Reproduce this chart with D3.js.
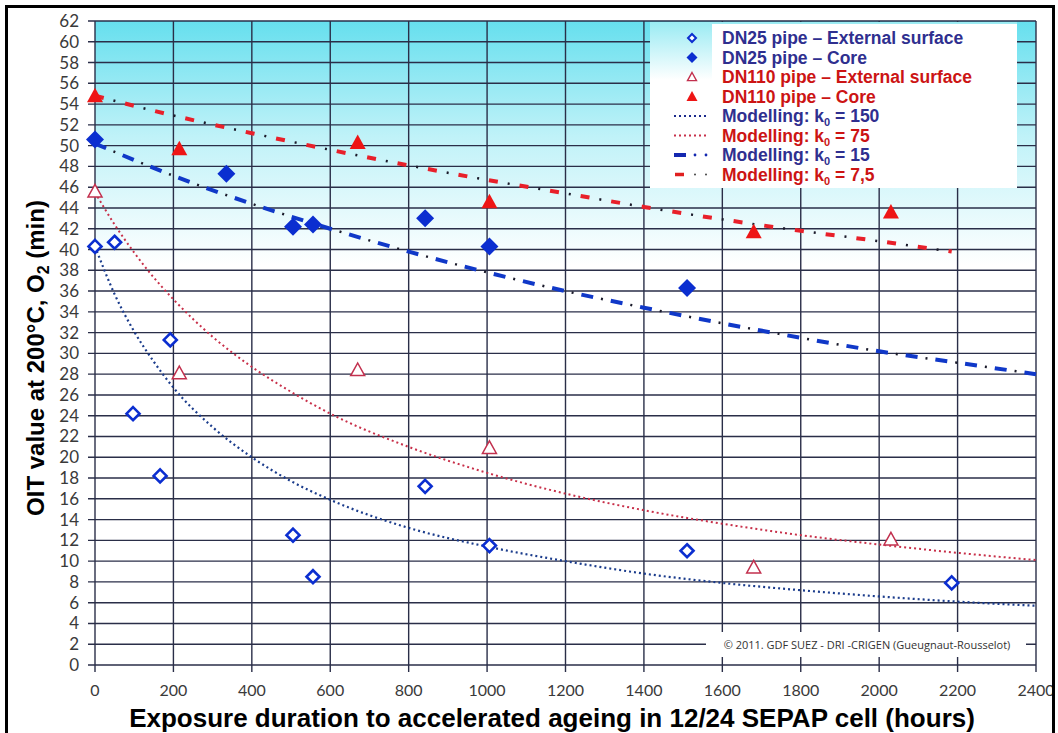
<!DOCTYPE html>
<html>
<head>
<meta charset="utf-8">
<script src="https://cdn.jsdelivr.net/npm/d3@7"></script>
<style>
  body { margin: 0; background: #fff; }
  svg { display: block; }
</style>
</head>
<body>
<div id="chart"></div>
<script>
// measured points (hours, OIT min)
const dn25ExtX = [0, 50, 97, 166, 192, 505, 556, 842, 1006, 1510, 2185];
const dn25ExtY = [40.3, 40.7, 24.2, 18.2, 31.3, 12.5, 8.5, 17.2, 11.5, 11.0, 7.9];
const dn25CoreX = [0, 335, 505, 556, 842, 1006, 1510];
const dn25CoreY = [50.6, 47.3, 42.2, 42.4, 43.0, 40.3, 36.3];
const dn110ExtX = [0, 215, 670, 1006, 1680, 2030];
const dn110ExtY = [45.6, 28.1, 28.4, 20.9, 9.4, 12.1];
const dn110CoreX = [0, 215, 670, 1006, 1680, 2030];
const dn110CoreY = [54.8, 49.7, 50.3, 44.6, 41.7, 43.6];

// model curves
const modelX = [0, 50, 100, 150, 200, 300, 400, 500, 600, 800, 1000, 1200, 1400, 1600, 1800, 2000, 2200, 2400];
const k150Y = [40.3, 35.7, 32.1, 29.2, 26.7, 22.9, 20.0, 17.7, 15.9, 13.2, 11.4, 10.0, 8.8, 7.9, 7.2, 6.6, 6.1, 5.7];
const k75Y = [45.5, 42.4, 39.7, 37.3, 35.2, 31.6, 28.7, 26.3, 24.2, 21.0, 18.5, 16.5, 14.9, 13.6, 12.5, 11.6, 10.8, 10.1];
const k15X = [0, 200, 400, 600, 800, 1000, 1200, 1400, 1600, 1800, 2000, 2200, 2400];
const k15Y = [50.2, 47.1, 44.4, 42.0, 39.8, 37.8, 36.0, 34.4, 32.9, 31.5, 30.2, 29.1, 28.0];
const k7X = [0, 200, 400, 600, 800, 1000, 1200, 1400, 1600, 1800, 2000, 2185];
const k7Y = [54.8, 52.9, 51.2, 49.6, 48.1, 46.7, 45.4, 44.1, 42.9, 41.8, 40.8, 39.8];

const xTicks = d3.range(0, 2401, 200);
const yTicks = d3.range(0, 63, 2);

const W = 1058, H = 733;
const blue = "#0b2ed0", red = "#ee1515", pink = "#c2304e";
const legBlue = "#2f2f8f", legRed = "#cc1414";

const svg = d3.select("#chart").append("svg").attr("width", W).attr("height", H);

const x = d3.scaleLinear().domain([0, 2400]).range([95, 1036]);
const y = d3.scaleLinear().domain([0, 62]).range([665, 21]);

// background gradient
const defs = svg.append("defs");
const grad = defs.append("linearGradient").attr("id", "bg").attr("x1", 0).attr("y1", 0).attr("x2", 0).attr("y2", 1);
grad.append("stop").attr("offset", "0%").attr("stop-color", "#66dfee");
grad.append("stop").attr("offset", "18%").attr("stop-color", "#c0f2f8");
grad.append("stop").attr("offset", "38%").attr("stop-color", "#ffffff");
grad.append("stop").attr("offset", "100%").attr("stop-color", "#ffffff");

svg.append("rect").attr("x", x(0)).attr("y", y(62)).attr("width", x(2400) - x(0)).attr("height", y(0) - y(62))
  .attr("fill", "url(#bg)");

// grid
svg.append("g").selectAll("line").data(yTicks).enter().append("line")
  .attr("x1", x(0) - 7).attr("x2", x(2400))
  .attr("y1", d => y(d)).attr("y2", d => y(d))
  .attr("stroke", "#2a2e48").attr("stroke-width", 1.4);
svg.append("g").selectAll("line").data(xTicks).enter().append("line")
  .attr("x1", d => x(d)).attr("x2", d => x(d))
  .attr("y1", y(62)).attr("y2", y(0) + 7)
  .attr("stroke", "#2a2e48").attr("stroke-width", 1.4);

// tick labels
svg.append("g").selectAll("text").data(yTicks).enter().append("text")
  .attr("x", 79).attr("y", d => y(d) + 6)
  .attr("text-anchor", "end")
  .style("font-family", "Lato, sans-serif").style("font-size", "17px").attr("fill", "#3a3a3a")
  .text(d => d);
svg.append("g").selectAll("text").data(xTicks).enter().append("text")
  .attr("x", d => x(d)).attr("y", 696)
  .attr("text-anchor", "middle")
  .style("font-family", "Lato, sans-serif").style("font-size", "16px").attr("fill", "#3a3a3a")
  .text(d => d);

// copyright box
svg.append("rect").attr("x", 706).attr("y", 632).attr("width", 320).attr("height", 25).attr("fill", "#fff");
svg.append("text").attr("x", 867).attr("y", 649).attr("text-anchor", "middle")
  .style("font-family", "Open Sans, sans-serif").style("font-size", "11px").attr("fill", "#333")
  .text("\u00a9 2011. GDF SUEZ  -  DRI  -CRIGEN  (Gueugnaut-Rousselot)");

// model curves
const line = d3.line().x(d => x(d[0])).y(d => y(d[1])).curve(d3.curveMonotoneX);
const pts = (xs, ys) => xs.map((v, i) => [v, ys[i]]);

svg.append("path").attr("d", line(pts(modelX, k75Y))).attr("fill", "none")
  .attr("stroke", "#c8304a").attr("stroke-width", 2).attr("stroke-dasharray", "2,3");
svg.append("path").attr("d", line(pts(modelX, k150Y))).attr("fill", "none")
  .attr("stroke", "#1b3c8c").attr("stroke-width", 2.2).attr("stroke-dasharray", "2,3");

function dashDot(d, col, dash, period, w) {
  svg.append("path").attr("d", d).attr("fill", "none")
    .attr("stroke", col).attr("stroke-width", w)
    .attr("stroke-dasharray", dash + "," + (period - dash));
  svg.append("path").attr("d", d).attr("fill", "none")
    .attr("stroke", "#1a1a2a").attr("stroke-width", 2.5)
    .attr("stroke-dasharray", "2," + (period - 2))
    .attr("stroke-dashoffset", -(dash + (period - dash) / 2 - 1));
}
dashDot(line(pts(k15X, k15Y)), "#1038c8", 12, 30, 4);
dashDot(line(pts(k7X, k7Y)), "#e8202a", 9, 31, 4);

// markers
const diamond = (s) => `M0,${-s}L${s},0L0,${s}L${-s},0Z`;
const tri = (s) => `M0,${-s}L${s},${s * 0.8}L${-s},${s * 0.8}Z`;

svg.append("g").selectAll("path").data(pts(dn110ExtX, dn110ExtY)).enter().append("path")
  .attr("transform", d => `translate(${x(d[0])},${y(d[1])})`)
  .attr("d", tri(7)).attr("fill", "#fff").attr("stroke", pink).attr("stroke-width", 1.5);
svg.append("g").selectAll("path").data(pts(dn110CoreX, dn110CoreY)).enter().append("path")
  .attr("transform", d => `translate(${x(d[0])},${y(d[1])})`)
  .attr("d", tri(8)).attr("fill", red);
svg.append("g").selectAll("path").data(pts(dn25CoreX, dn25CoreY)).enter().append("path")
  .attr("transform", d => `translate(${x(d[0])},${y(d[1])})`)
  .attr("d", diamond(9)).attr("fill", blue);
svg.append("g").selectAll("path").data(pts(dn25ExtX, dn25ExtY)).enter().append("path")
  .attr("transform", d => `translate(${x(d[0])},${y(d[1])})`)
  .attr("d", diamond(6.5)).attr("fill", "#fff").attr("stroke", blue).attr("stroke-width", 2.6);

// legend
const lg = svg.append("g");
const lgGrad = defs.append("linearGradient").attr("id", "lgbg").attr("x1", 0).attr("y1", 0).attr("x2", 0).attr("y2", 1);
lgGrad.append("stop").attr("offset", "0%").attr("stop-color", "#9aebf3");
lgGrad.append("stop").attr("offset", "35%").attr("stop-color", "#ffffff");
lg.append("rect").attr("x", 650).attr("y", 22).attr("width", 367).attr("height", 166).attr("fill", "url(#lgbg)");
lg.append("rect").attr("x", 712).attr("y", 24).attr("width", 305).attr("height", 163).attr("fill", "#fff");

const legRows = [
  {label: "DN25 pipe \u2013 External surface", col: legBlue, kind: "openDiamond"},
  {label: "DN25 pipe \u2013 Core", col: legBlue, kind: "diamond"},
  {label: "DN110 pipe \u2013 External surface", col: legRed, kind: "openTri"},
  {label: "DN110 pipe \u2013 Core", col: legRed, kind: "tri"},
  {label: "Modelling: k", sub: "0", rest: " = 150", col: legBlue, kind: "dotBlue"},
  {label: "Modelling: k", sub: "0", rest: " = 75", col: legRed, kind: "dotRed"},
  {label: "Modelling: k", sub: "0", rest: " = 15", col: legBlue, kind: "ddBlue"},
  {label: "Modelling: k", sub: "0", rest: " = 7,5", col: legRed, kind: "ddRed"}
];
const rowY = i => 38 + i * 19.5;
legRows.forEach((r, i) => {
  const cy = rowY(i);
  const sx = 692;
  if (r.kind === "openDiamond")
    lg.append("path").attr("transform", `translate(${sx},${cy})`).attr("d", diamond(4)).attr("fill", "#fff").attr("stroke", blue).attr("stroke-width", 2);
  if (r.kind === "diamond")
    lg.append("path").attr("transform", `translate(${sx},${cy})`).attr("d", diamond(5.5)).attr("fill", blue);
  if (r.kind === "openTri")
    lg.append("path").attr("transform", `translate(${sx},${cy})`).attr("d", tri(4.5)).attr("fill", "#fff").attr("stroke", pink).attr("stroke-width", 1.4);
  if (r.kind === "tri")
    lg.append("path").attr("transform", `translate(${sx},${cy})`).attr("d", tri(5.5)).attr("fill", red);
  if (r.kind === "dotBlue" || r.kind === "dotRed")
    lg.append("line").attr("x1", 674).attr("x2", 708).attr("y1", cy).attr("y2", cy)
      .attr("stroke", r.kind === "dotBlue" ? "#1b2a8c" : "#c8304a").attr("stroke-width", 2.2).attr("stroke-dasharray", "2,3");
  if (r.kind === "ddBlue") {
    lg.append("line").attr("x1", 674).attr("x2", 686).attr("y1", cy).attr("y2", cy).attr("stroke", "#1428b0").attr("stroke-width", 4);
    lg.append("circle").attr("cx", 695).attr("cy", cy).attr("r", 1.4).attr("fill", "#1428b0");
    lg.append("circle").attr("cx", 706).attr("cy", cy).attr("r", 1.4).attr("fill", "#1428b0");
  }
  if (r.kind === "ddRed") {
    lg.append("line").attr("x1", 675).attr("x2", 684).attr("y1", cy).attr("y2", cy).attr("stroke", "#e02020").attr("stroke-width", 3.5);
    lg.append("circle").attr("cx", 695).attr("cy", cy).attr("r", 1).attr("fill", "#444");
    lg.append("circle").attr("cx", 706).attr("cy", cy).attr("r", 1).attr("fill", "#444");
  }
  const t = lg.append("text").attr("x", 722).attr("y", cy + 6)
    .style("font-family", "Liberation Sans, Arial, sans-serif").style("font-size", "17.5px").style("font-weight", "bold")
    .attr("fill", r.col).text(r.label);
  if (r.sub) {
    t.append("tspan").attr("dy", 4).style("font-size", "11px").text(r.sub);
    t.append("tspan").attr("dy", -4).text(r.rest);
  }
});

// axis titles
svg.append("text").attr("x", 552).attr("y", 727).attr("text-anchor", "middle")
  .style("font-family", "Liberation Sans, Arial, sans-serif").style("font-size", "26px").style("font-weight", "bold")
  .text("Exposure duration to accelerated ageing in 12/24 SEPAP cell (hours)");
const yt = svg.append("text").attr("transform", "translate(44,358) rotate(-90)").attr("text-anchor", "middle")
  .style("font-family", "Liberation Sans, Arial, sans-serif").style("font-size", "24px").style("font-weight", "bold")
  .text("OIT value at 200\u00b0C, O");
yt.append("tspan").attr("dy", 5).style("font-size", "16px").text("2");
yt.append("tspan").attr("dy", -5).text(" (min)");

// outer frame
svg.append("rect").attr("x", 6.5).attr("y", 6.5).attr("width", 1047).attr("height", 740)
  .attr("fill", "none").attr("stroke", "#000").attr("stroke-width", 3);
</script>
</body>
</html>
